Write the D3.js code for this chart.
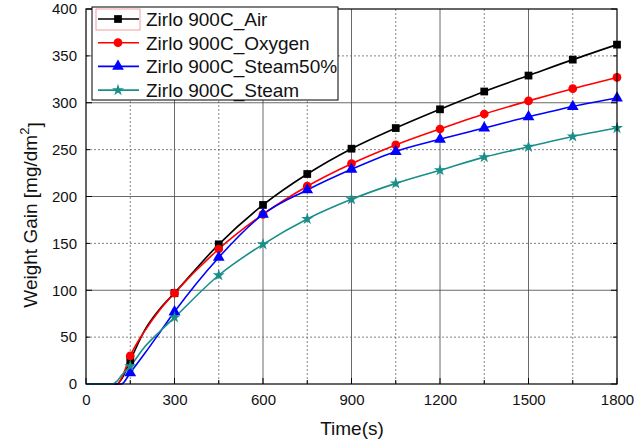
<!DOCTYPE html>
<html><head><meta charset="utf-8">
<script src="https://cdn.jsdelivr.net/npm/d3@7"></script>
<style>body{margin:0;background:#fff}svg{display:block}text{font-family:"Liberation Sans",Arial,sans-serif}</style>
</head><body><svg id="c" width="636" height="440"></svg>
<script>
const times = [0, 90, 105, 120, 150, 200, 250, 300, 450, 600, 750, 900, 1050, 1200, 1350, 1500, 1650, 1800];
const airVals      = [0, 0, 0, 5, 25, 58, 80, 97, 149, 191, 224, 251, 273, 293, 312, 329, 346, 362];
const oxygenVals   = [0, 0, 0, 6, 30, 57, 79, 97, 144, 181, 211, 235, 255, 272, 288, 302, 315, 327];
const steam50Vals  = [0, 0, 0, 0, 12, 33, 55, 77, 135, 181, 207, 229, 248, 261, 273, 285, 296, 305];
const steamVals    = [0, 0, 3, 9, 19, 40, 56, 71, 116, 149, 176, 197, 214, 228, 242, 253, 264, 273];
const seriesNames  = ["Zirlo 900C_Air", "Zirlo 900C_Oxygen", "Zirlo 900C_Steam50%", "Zirlo 900C_Steam"];
const seriesColors = ["#000000", "#ff0000", "#0000ff", "#1a8f8a"];
const seriesSymbols = ["square", "circle", "triangle", "star"];
const xTicks = [0, 300, 600, 900, 1200, 1500, 1800];
const yTicks = [0, 50, 100, 150, 200, 250, 300, 350, 400];

const series = [airVals, oxygenVals, steam50Vals, steamVals].map((v, i) => ({
  name: seriesNames[i], color: seriesColors[i], symbol: seriesSymbols[i],
  pts: times.map((t, j) => ({t, v: v[j]}))
}));

const svg = d3.select("#c");
const L = 86, R = 617, T = 9, B = 384;
const x = d3.scaleLinear().domain([0, 1800]).range([L, R]);
const y = d3.scaleLinear().domain([0, 400]).range([B, T]);

// grid
const g = svg.append("g");
d3.range(150, 1800, 150).forEach(t => {
  g.append("line").attr("x1", x(t)).attr("x2", x(t)).attr("y1", T).attr("y2", B)
    .attr("stroke", t % 300 === 0 ? "#444" : "#666").attr("stroke-width", 0.8)
    .attr("stroke-dasharray", t % 300 === 0 ? null : "2,2");
});
d3.range(50, 400, 50).forEach(v => {
  g.append("line").attr("x1", L).attr("x2", R).attr("y1", y(v)).attr("y2", y(v))
    .attr("stroke", v % 100 === 0 ? "#444" : "#666").attr("stroke-width", 0.8)
    .attr("stroke-dasharray", v % 100 === 0 ? null : "2,2");
});

// axes
const xAxis = d3.axisBottom(x).tickValues(xTicks).tickSize(0).tickPadding(8).tickFormat(d3.format("d"));
const yAxis = d3.axisLeft(y).tickValues(yTicks).tickSize(0).tickPadding(9).tickFormat(d3.format("d"));
const gx = svg.append("g").attr("transform", `translate(0,${B})`).call(xAxis);
const gy = svg.append("g").attr("transform", `translate(${L},0)`).call(yAxis);
[gx, gy].forEach(a => { a.select(".domain").remove(); a.selectAll("text").attr("font-size", 15).attr("fill", "#111"); });
gx.selectAll("text").attr("dy", "0.85em");

// inward ticks
d3.range(0, 1801, 150).forEach(t => {
  svg.append("line").attr("x1", x(t)).attr("x2", x(t)).attr("y1", B).attr("y2", B - (t % 300 === 0 ? 6 : 4)).attr("stroke", "#000");
});
d3.range(0, 401, 50).forEach(v => {
  svg.append("line").attr("x1", L).attr("x2", L + (v % 100 === 0 ? 6 : 4)).attr("y1", y(v)).attr("y2", y(v)).attr("stroke", "#000");
  svg.append("line").attr("x1", R).attr("x2", R - (v % 100 === 0 ? 6 : 4)).attr("y1", y(v)).attr("y2", y(v)).attr("stroke", "#000");
});

// lines
const line = d3.line().x(d => x(d.t)).y(d => y(d.v)).curve(d3.curveMonotoneX);
const symType = {square: d3.symbolSquare, circle: d3.symbolCircle, triangle: d3.symbolTriangle, star: d3.symbolStar};
const symSize = {square: 60, circle: 60, triangle: 60, star: 45};
series.forEach(s => {
  svg.append("path").datum(s.pts).attr("d", line).attr("fill", "none").attr("stroke", s.color).attr("stroke-width", 1.6);
});
series.forEach(s => {
  svg.append("g").selectAll("path").data(s.pts.filter(d => d.t > 0 && d.t % 150 === 0)).join("path")
    .attr("transform", d => `translate(${x(d.t)},${y(d.v)})`)
    .attr("d", d3.symbol().type(symType[s.symbol]).size(symSize[s.symbol]))
    .attr("fill", s.color);
});

// frame
svg.append("rect").attr("x", L).attr("y", T).attr("width", R - L).attr("height", B - T)
  .attr("fill", "none").attr("stroke", "#000").attr("stroke-width", 1.2);

// legend
const lg = svg.append("g");
lg.append("rect").attr("x", 92).attr("y", 7).attr("width", 246).attr("height", 93)
  .attr("fill", "#fff").attr("stroke", "#000").attr("stroke-width", 1);
lg.append("rect").attr("x", 96).attr("y", 9).attr("width", 44).attr("height", 21)
  .attr("fill", "none").attr("stroke", "#e88").attr("stroke-width", 0.8);
series.forEach((s, i) => {
  const yy = 19 + i * 23.7;
  lg.append("line").attr("x1", 98).attr("x2", 139).attr("y1", yy).attr("y2", yy).attr("stroke", s.color).attr("stroke-width", 1.6);
  lg.append("path").attr("transform", `translate(118,${yy})`)
    .attr("d", d3.symbol().type(symType[s.symbol]).size(symSize[s.symbol])).attr("fill", s.color);
  lg.append("text").attr("x", 146).attr("y", yy).attr("dy", "0.36em").attr("font-size", 19).attr("fill", "#111").text(s.name);
});

// titles
svg.append("text").attr("x", 352).attr("y", 435).attr("text-anchor", "middle").attr("font-size", 19).attr("fill", "#111").text("Time(s)");
const yt = svg.append("text").attr("transform", "translate(37,215) rotate(-90)").attr("text-anchor", "middle")
  .attr("font-size", 19).attr("fill", "#111");
yt.append("tspan").text("Weight Gain [mg/dm");
yt.append("tspan").attr("font-size", 13).attr("dy", "-0.6em").text("2");
yt.append("tspan").attr("dy", "0.6em").text("]");
</script></body></html>
